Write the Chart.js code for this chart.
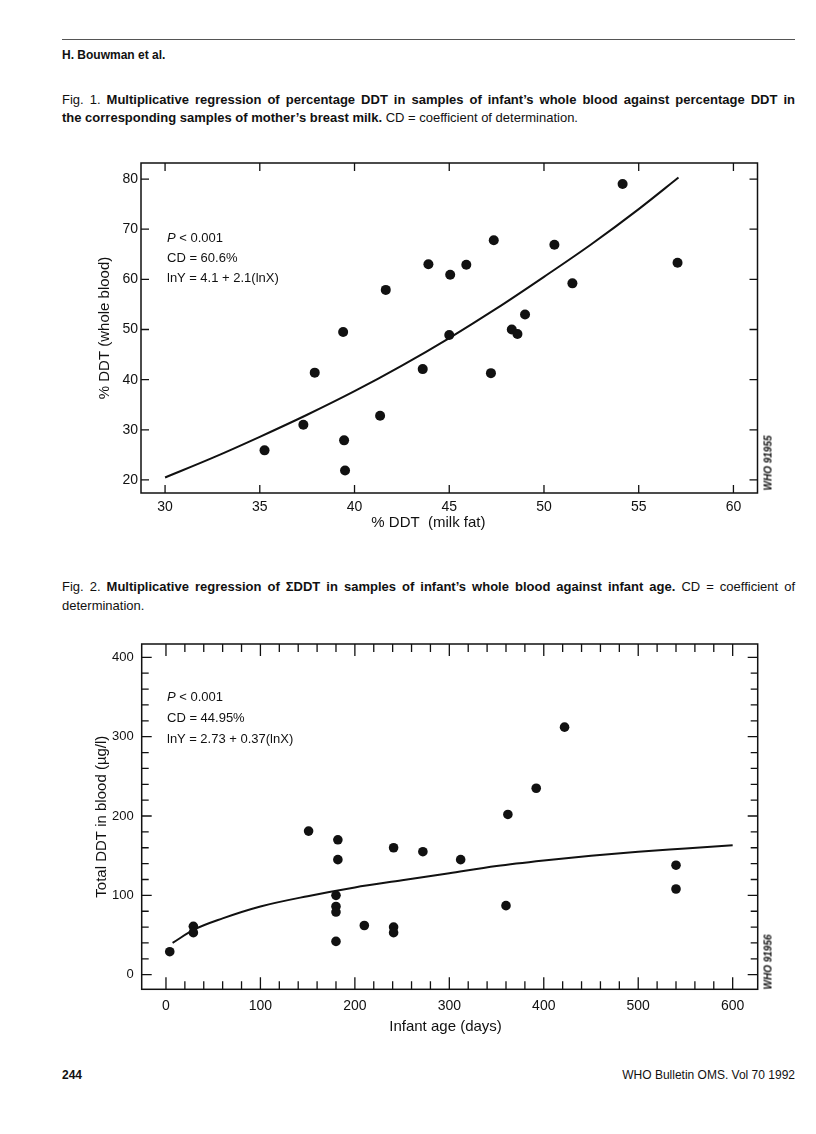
<!DOCTYPE html>
<html>
<head>
<meta charset="utf-8">
<script src="https://cdn.jsdelivr.net/npm/chart.js@4.4.0/dist/chart.umd.min.js"></script>
<style>
  body { margin: 0; background: #fff; }
  #page { position: relative; width: 816px; height: 1134px; overflow: hidden;
          font-family: "Liberation Sans Narrow", "Liberation Sans", Arial, sans-serif; color: #111; }
  .t { position: absolute; white-space: nowrap; line-height: 18px; font-size: 13px; }
  .b { font-weight: bold; }
  .ann { position: absolute; left: 167px; white-space: nowrap; font-size: 13px; line-height: 16px;
         font-family: "Liberation Sans", Arial, sans-serif; }
  .who { position: absolute; font: italic bold 10px "Liberation Sans", Arial, sans-serif;
         transform: translate(-50%, -50%) rotate(-90deg); white-space: nowrap; }
  canvas { position: absolute; left: 0; }
</style>
</head>
<body>
<div id="page">
  <div style="position:absolute; left:62px; top:39px; width:733px; height:1px; background:#555;"></div>
  <div class="t b" style="left:62px; top:46px; font-size:12px;">H. Bouwman et al.</div>

  <div class="t just" style="left:62px; top:91px;">Fig. 1. <span class="b">Multiplicative regression of percentage DDT in samples of infant’s whole blood against percentage DDT in</span></div>
  <div class="t" style="left:62px; top:109px;"><span class="b">the corresponding samples of mother’s breast milk.</span> CD = coefficient of determination.</div>

  <canvas id="fig1" width="816" height="392" style="top:140px;"></canvas>
  <div class="ann" style="top:230px;"><i>P</i> &lt; 0.001</div>
  <div class="ann" style="top:250px;">CD = 60.6%</div>
  <div class="ann" style="top:270px;">lnY = 4.1 + 2.1(lnX)</div>
  <div class="who" style="left:768px; top:463px;">WHO 91955</div>

  <div class="t just" style="left:62px; top:578px;">Fig. 2. <span class="b">Multiplicative regression of ΣDDT in samples of infant’s whole blood against infant age.</span> CD = coefficient of</div>
  <div class="t" style="left:62px; top:597px;">determination.</div>

  <canvas id="fig2" width="816" height="416" style="top:620px;"></canvas>
  <div class="ann" style="top:689px;"><i>P</i> &lt; 0.001</div>
  <div class="ann" style="top:710px;">CD = 44.95%</div>
  <div class="ann" style="top:731px;">lnY = 2.73 + 0.37(lnX)</div>
  <div class="who" style="left:768px; top:962px;">WHO 91956</div>

  <div class="t b" style="left:62px; top:1066px; font-size:12px;">244</div>
  <div class="t" style="right:21px; top:1066px; font-size:12px;">WHO Bulletin OMS. Vol 70 1992</div>
</div>

<script>
// Fig. 1 – % DDT in milk fat vs % DDT in whole blood
const milkFat = [35.25, 37.3, 37.9, 39.4, 39.45, 39.5, 41.35, 41.65, 43.6, 43.9, 45.05, 45.0, 45.9, 47.35, 47.2, 48.3, 48.6, 49.0, 50.55, 51.5, 54.15, 57.05];
const wholeBlood = [25.9, 31.0, 41.4, 49.5, 27.9, 21.9, 32.8, 57.9, 42.1, 63.0, 60.9, 48.9, 62.9, 67.8, 41.3, 50.0, 49.1, 53.0, 66.9, 59.2, 79.0, 63.3];
// regression curve
const fit1X = [30, 32.5, 35, 37.5, 40, 42.5, 45, 47.5, 50, 52.5, 55, 57.1];
const fit1Y = [20.5, 24.4, 28.6, 33.0, 37.7, 42.8, 48.3, 54.2, 60.5, 67.0, 74.0, 80.3];
const fig1XTicks = [30, 35, 40, 45, 50, 55, 60];
const fig1YTicks = [20, 30, 40, 50, 60, 70, 80];

// Fig. 2 – infant age vs total DDT in blood
const ageDays = [4, 29, 29, 151, 182, 182, 180, 180, 180, 180, 210, 241, 241, 241, 272, 312, 360, 362, 392, 422, 540, 540];
const totalDDT = [29, 61, 53, 181, 170, 145, 100, 86, 79, 42, 62, 160, 60, 53, 155, 145, 87, 202, 235, 312, 138, 108];
const fit2X = [7, 30, 60, 100, 150, 200, 250, 300, 350, 400, 450, 500, 550, 600];
const fit2Y = [40, 57, 71, 86, 99, 110, 119, 128, 137, 144, 150, 155, 159, 163];
const fig2XTicks = [0, 100, 200, 300, 400, 500, 600];
const fig2YTicks = [0, 100, 200, 300, 400];
const fig2XMinor = [];
for (let v = 0; v <= 600; v += 20) fig2XMinor.push(v);
const fig2YMinor = [];
for (let v = 0; v <= 400; v += 20) fig2YMinor.push(v);

// stretch first caption lines to the full column width
document.querySelectorAll('.just').forEach(el => {
  const w = el.getBoundingClientRect().width;
  const spaces = (el.textContent.match(/ /g) || []).length;
  el.style.wordSpacing = ((733 - w) / spaces) + 'px';
});

Chart.defaults.font.family = '"Liberation Sans", Arial, sans-serif';
Chart.defaults.color = '#111';

const toPts = (xs, ys) => xs.map((x, i) => ({x: x, y: ys[i]}));

// box round the plot with inward tick marks on all four sides
function frameTicks(cfg) {
  return {
    id: 'frameTicks',
    afterDraw(chart) {
      const {ctx, chartArea: a, scales: {x, y}} = chart;
      ctx.save();
      ctx.strokeStyle = '#111';
      ctx.lineWidth = 1.5;
      ctx.strokeRect(a.left, a.top, a.right - a.left, a.bottom - a.top);
      ctx.lineWidth = 1.3;
      ctx.beginPath();
      cfg.xMarks.forEach(v => {
        const px = x.getPixelForValue(v);
        const len = v % cfg.xMajor === 0 ? cfg.xMajorLen : cfg.xMinorLen;
        ctx.moveTo(px, a.bottom); ctx.lineTo(px, a.bottom - len);
        ctx.moveTo(px, a.top); ctx.lineTo(px, a.top + len);
      });
      cfg.yMarks.forEach(v => {
        const py = y.getPixelForValue(v);
        const len = v % cfg.yMajor === 0 ? cfg.yMajorLen : cfg.yMinorLen;
        ctx.moveTo(a.left, py); ctx.lineTo(a.left + len, py);
        ctx.moveTo(a.right, py); ctx.lineTo(a.right - len, py);
      });
      ctx.stroke();
      ctx.restore();
    }
  };
}

function makeChart(id, o) {
  return new Chart(document.getElementById(id), {
    type: 'scatter',
    data: {
      datasets: [
        {
          data: toPts(o.px, o.py),
          backgroundColor: '#111',
          borderWidth: 0,
          pointRadius: o.r,
          pointHoverRadius: o.r
        },
        {
          data: toPts(o.fx, o.fy),
          showLine: true,
          borderColor: '#111',
          borderWidth: 2,
          pointRadius: 0,
          cubicInterpolationMode: 'monotone'
        }
      ]
    },
    options: {
      responsive: false,
      animation: false,
      events: [],
      layout: { padding: o.pad },
      plugins: { legend: { display: false }, tooltip: { enabled: false } },
      scales: {
        x: {
          min: o.xMin, max: o.xMax,
          grid: { display: false, drawTicks: false },
          border: { display: false },
          afterBuildTicks: s => { s.ticks = o.xTicks.map(v => ({value: v})); },
          afterFit: s => { s.height = o.xH; },
          ticks: { padding: o.xPad, font: { size: 14 }, color: '#111' },
          title: { display: true, text: o.xTitle, padding: 0, font: { size: 15 }, color: '#111' }
        },
        y: {
          min: o.yMin, max: o.yMax,
          grid: { display: false, drawTicks: false },
          border: { display: false },
          afterBuildTicks: s => { s.ticks = o.yTicks.map(v => ({value: v})); },
          afterFit: s => { s.width = o.yW; },
          ticks: { padding: o.yPad, font: { size: o.yFont }, color: '#111' },
          title: { display: true, text: o.yTitle, padding: 0, font: { size: 15 }, color: '#111' }
        }
      }
    },
    plugins: [frameTicks(o.frame)]
  });
}

makeChart('fig1', {
  px: milkFat, py: wholeBlood, fx: fit1X, fy: fit1Y, r: 5,
  xMin: 28.73, xMax: 61.27, yMin: 17.4, yMax: 83.2,
  xTicks: fig1XTicks, yTicks: fig1YTicks,
  pad: { left: 96, top: 23, right: 58.5, bottom: 0 },
  xH: 39, yW: 45, xPad: 6, yPad: 3, yFont: 14,
  xTitle: '% DDT  (milk fat)          ', yTitle: '% DDT (whole blood)',
  frame: { xMarks: fig1XTicks, xMajor: 5, xMajorLen: 8, xMinorLen: 8,
           yMarks: fig1YTicks, yMajor: 10, yMajorLen: 8, yMinorLen: 8 }
});

makeChart('fig2', {
  px: ageDays, py: totalDDT, fx: fit2X, fy: fit2Y, r: 4.8,
  xMin: -25.7, xMax: 626.5, yMin: -18.4, yMax: 416.8,
  xTicks: fig2XTicks, yTicks: fig2YTicks,
  pad: { left: 93, top: 24, right: 58.3, bottom: 0 },
  xH: 46.7, yW: 48.7, xPad: 8, yPad: 8, yFont: 13,
  xTitle: 'Infant age (days)  ', yTitle: 'Total DDT in blood (µg/l)',
  frame: { xMarks: fig2XMinor, xMajor: 100, xMajorLen: 12, xMinorLen: 8,
           yMarks: fig2YMinor, yMajor: 100, yMajorLen: 10, yMinorLen: 7 }
});
</script>
</body>
</html>
